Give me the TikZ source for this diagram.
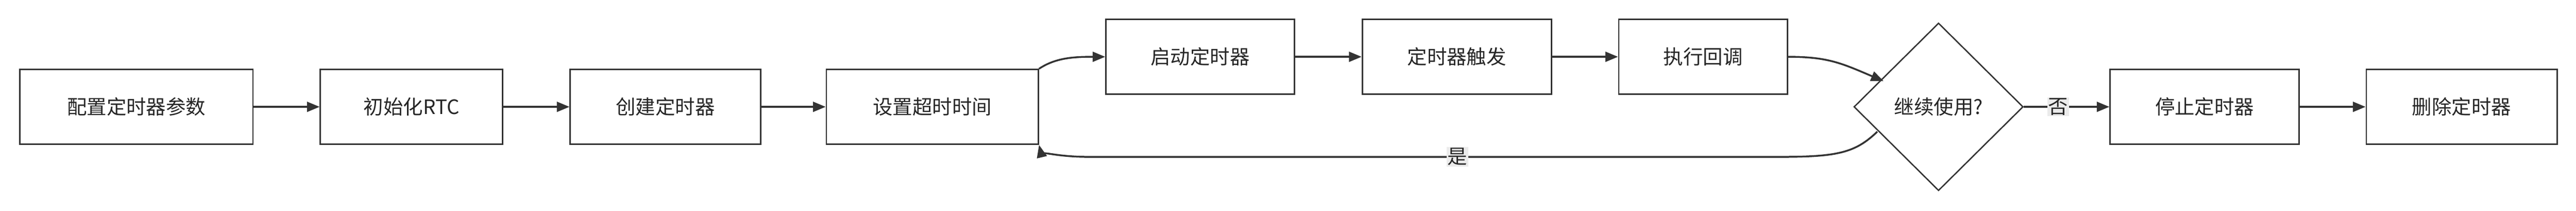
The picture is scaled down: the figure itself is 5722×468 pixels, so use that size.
\documentclass[tikz,border=0pt]{standalone}
\usepackage{fontspec}
\setmainfont{Noto Sans CJK SC}
\usetikzlibrary{shapes.geometric,arrows.meta}
\begin{document}
\begin{tikzpicture}[x=1pt,y=-1pt,
  box/.style={draw=black!80,line width=3pt,fill=white,minimum height=166pt,inner sep=0pt,font=\fontsize{44}{48}\selectfont,text=black!85},
  dia/.style={draw=black!80,line width=3pt,fill=white,shape=diamond,minimum width=376pt,minimum height=372pt,inner sep=0pt,shape aspect=1,font=\fontsize{44}{48}\selectfont,text=black!85},
  ar/.style={draw=black!80,line width=4pt,-{Triangle[length=28pt,width=22pt]}},
  lab/.style={fill=black!8,inner sep=2pt,font=\fontsize{44}{48}\selectfont,text=black!85}]
\useasboundingbox (0,0) rectangle (5722,468);
\node[box,minimum width=518pt] (a) at (303,237) {配置定时器参数};
\node[box,minimum width=405pt] (b) at (914,237) {初始化RTC};
\node[box,minimum width=423pt] (c) at (1478,237) {创建定时器};
\node[box,minimum width=471pt] (d) at (2071,237) {设置超时时间};
\node[box,minimum width=419pt] (e) at (2666,126) {启动定时器};
\node[box,minimum width=420pt] (f) at (3236,126) {定时器触发};
\node[box,minimum width=375pt] (g) at (3783,126) {执行回调};
\node[dia] (h) at (4306,237) {继续使用?};
\node[box,minimum width=420pt] (i) at (4897,237) {停止定时器};
\node[box,minimum width=424pt] (j) at (5468,237) {删除定时器};
\coordinate (hin) at (4184,180);
\coordinate (hout) at (4170,292);
\draw[ar] (a) -- (b);
\draw[ar] (b) -- (c);
\draw[ar] (c) -- (d);
\draw[ar] (d.north east) .. controls (2345,128) and (2385,126) .. (e.west);
\draw[ar] (e) -- (f);
\draw[ar] (f) -- (g);
\draw[ar] (g.east) .. controls (4060,126) and (4090,140) .. (hin);
\draw[ar] (hout) .. controls (4120,340) and (4080,348) .. (3950,348) -- (2420,348) .. controls (2330,348) and (2310,330) .. (d.south east);
\node[lab] at (3237,348) {是};
\draw[ar] (h.east) -- node[lab,pos=0.4] {否} (i.west);
\draw[ar] (i) -- (j);
\end{tikzpicture}
\end{document}
